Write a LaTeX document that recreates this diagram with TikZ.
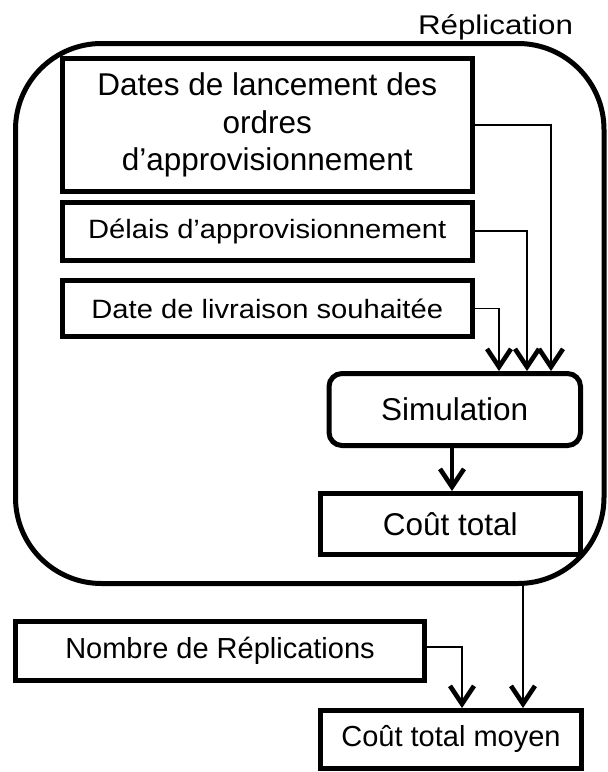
\documentclass[tikz,border=0pt]{standalone}
\usepackage{fontspec}
\setmainfont{Liberation Sans}
\newfontfamily\widesans[FakeStretch=1.1]{Liberation Sans}
\newfontfamily\widersans[FakeStretch=1.16]{Liberation Sans}
\usetikzlibrary{arrows.meta}

\tikzset{
  box/.style={draw, line width=5pt, inner sep=0pt, align=center},
  frame/.style={draw, line width=5pt, inner sep=0pt, rounded corners=86pt},
  barb/.tip={Straight Barb[length=18pt,width=24pt,line width=4.6pt,line join=miter,line cap=butt]},
  conn/.style={line width=1.6pt, line join=miter, -barb},
  thickconn/.style={line width=4.5pt, -barb},
  big/.style={font=\fontsize{31.5}{37.5}\selectfont},
  mid/.style={font=\fontsize{29}{34}\selectfont},
  narrow/.style={font=\widesans\fontsize{26.5}{31}\selectfont},
}

\begin{document}
\begin{tikzpicture}[x=1pt,y=-1pt]
  \fill[white] (0,0) rectangle (608,772);
  \useasboundingbox (0,0) rectangle (608,772);

  % replication loop
  \node[frame, minimum width=588.5pt, minimum height=540pt] (rep) at (309.75,313.5) {};
  \node[anchor=base, font=\widersans\fontsize{27}{32}\selectfont] (replab) at (495.5,34) {Réplication};

  % inputs of the simulation
  \node[box, big, minimum width=409.5pt, minimum height=133pt] (launch) at (267.25,125)
    {Dates de lancement des\\ordres\\d’approvisionnement};
  \node[box, narrow, minimum width=409.5pt, minimum height=57.5pt] (lead) at (267.25,231.25)
    {Délais d’approvisionnement};
  \node[box, narrow, minimum width=409.5pt, minimum height=56pt] (due) at (267.25,308.5)
    {Date de livraison souhaitée};

  % simulation and its result
  \node[box, big, rounded corners=13pt, minimum width=251.5pt, minimum height=72pt] (sim) at (454.75,409.5)
    {Simulation};
  \node[box, big, minimum width=260.5pt, minimum height=61pt] (cost) at (450.25,524)
    {Coût total};

  % outside the loop
  \node[box, mid, minimum width=409pt, minimum height=59pt] (nrep) at (220,651)
    {Nombre de Réplications};
  \node[box, mid, minimum width=261pt, minimum height=57.5pt] (mean) at (451,739.25)
    {Coût total moyen};

  % drop lines
  \coordinate (xa) at (551,0);
  \coordinate (xb) at (527,0);
  \coordinate (xc) at (499,0);
  \coordinate (xs) at (452,0);
  \coordinate (xr) at (523,0);
  \coordinate (xn) at (462,0);

  \draw[conn] (launch.east) -| (sim.north -| xa);
  \draw[conn] (lead.east) -| (sim.north -| xb);
  \draw[conn] (due.east) -| (sim.north -| xc);
  \draw[thickconn] (sim.south -| xs) -- (cost.north -| xs);
  \draw[conn] (rep.south -| xr) -- (mean.north -| xr);
  \draw[conn] ([yshift=4pt]nrep.east) -| (mean.north -| xn);
\end{tikzpicture}
\end{document}
